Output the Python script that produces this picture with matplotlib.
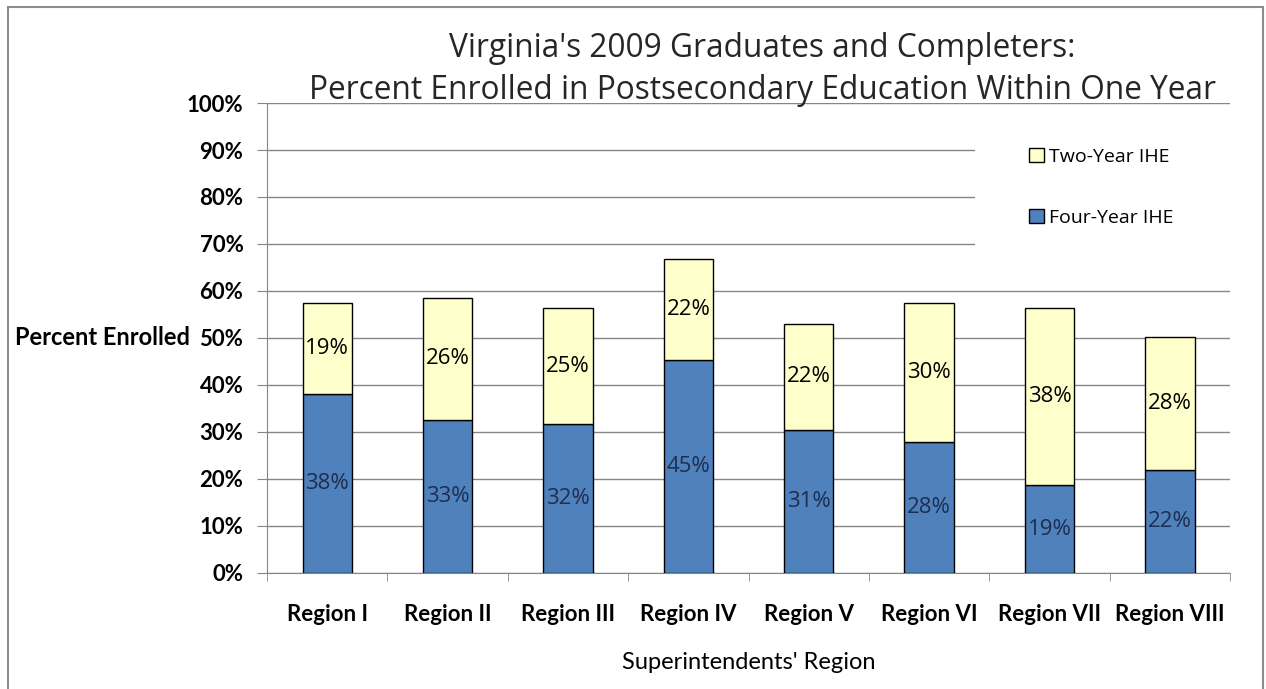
import numpy as np
import matplotlib.pyplot as plt
from matplotlib.patches import Rectangle

# Data
regions = ['Region I', 'Region II', 'Region III', 'Region IV',
           'Region V', 'Region VI', 'Region VII', 'Region VIII']
four_year = [38.1, 32.6, 31.6, 45.3, 30.5, 27.9, 18.7, 21.9]
two_year = [19.4, 26.0, 24.8, 21.6, 22.4, 29.6, 37.6, 28.3]
four_labels = ['38%', '33%', '32%', '45%', '31%', '28%', '19%', '22%']
two_labels = ['19%', '26%', '25%', '22%', '22%', '30%', '38%', '28%']

plt.rcParams['font.family'] = ['Lato', 'DejaVu Sans']
soft = ['Open Sans', 'DejaVu Sans']

fig = plt.figure(figsize=(12.66, 6.89), dpi=100)
ax = fig.add_axes([0.2109, 0.1684, 0.7607, 0.6821])

x = np.arange(len(regions))
bw = 0.41
ax.bar(x, four_year, bw, color='#4F81BD', edgecolor='black',
       linewidth=1, label='Four-Year IHE', zorder=3)
ax.bar(x, two_year, bw, bottom=four_year, color='#FFFFCC',
       edgecolor='black', linewidth=1, label='Two-Year IHE', zorder=3)

for i in range(len(regions)):
    ax.text(x[i], four_year[i] / 2, four_labels[i], ha='center',
            va='center', fontsize=16, color='#1F2D4F', zorder=4,
            family=soft)
    ax.text(x[i], four_year[i] + two_year[i] / 2, two_labels[i],
            ha='center', va='center', fontsize=16, color='black',
            zorder=4, family=soft)

ax.set_xlim(-0.5, len(regions) - 0.5)
ax.set_ylim(0, 100)
ax.set_yticks(np.arange(0, 101, 10))
ax.set_yticklabels([str(v) + '%' for v in range(0, 101, 10)])
ax.set_xticks(x)
ax.set_xticklabels(regions, fontweight='bold')
ax.set_xticks(np.arange(-0.5, len(regions), 1), minor=True)
ax.tick_params(axis='x', which='major', length=0, pad=22, labelsize=16)
ax.tick_params(axis='x', which='minor', length=6, color='#868686')
ax.tick_params(axis='y', length=7, color='#868686', labelsize=16,
               pad=10)
for lab in ax.get_yticklabels():
    lab.set_fontweight('bold')

ax.yaxis.grid(True, color='#868686', linewidth=1, zorder=0)
for s in ['top', 'right']:
    ax.spines[s].set_visible(False)
for s in ['left', 'bottom']:
    ax.spines[s].set_color('#868686')

ax.set_xlabel("Superintendents' Region", fontsize=17, labelpad=20)
ax.set_ylabel('Percent Enrolled', fontsize=17, fontweight='bold',
              rotation=0, ha='right', va='center')
ax.yaxis.set_label_coords(-0.0795, 0.5)

# white box behind the legend hides part of the gridlines
ax.add_patch(Rectangle((0.735, 67.5), 0.27, 28.5,
                       transform=ax.get_yaxis_transform(),
                       facecolor='white', edgecolor='none',
                       zorder=2, clip_on=False))

handles, labels = ax.get_legend_handles_labels()
leg = ax.legend(handles[::-1], labels[::-1], loc='upper left',
                bbox_to_anchor=(0.773, 0.942), frameon=False,
                prop={'family': soft, 'size': 14},
                labelspacing=2.2, handlelength=0.75,
                handleheight=0.75, handletextpad=0.3)
leg.set_zorder(5)

fig.text(0.602, 0.93, "Virginia's 2009 Graduates and Completers:",
         ha='center', va='center', fontsize=22.8, color='#262626',
         family=soft)
fig.text(0.602, 0.868,
         'Percent Enrolled in Postsecondary Education Within One Year',
         ha='center', va='center', fontsize=22.8, color='#262626',
         family=soft)

# outer chart border
fig.patches.append(Rectangle((0.0063, -0.05), 0.991, 1.04,
                             transform=fig.transFigure, fill=False,
                             edgecolor='#8c8c8c', linewidth=1.5))

plt.savefig('out.png', dpi=100)
